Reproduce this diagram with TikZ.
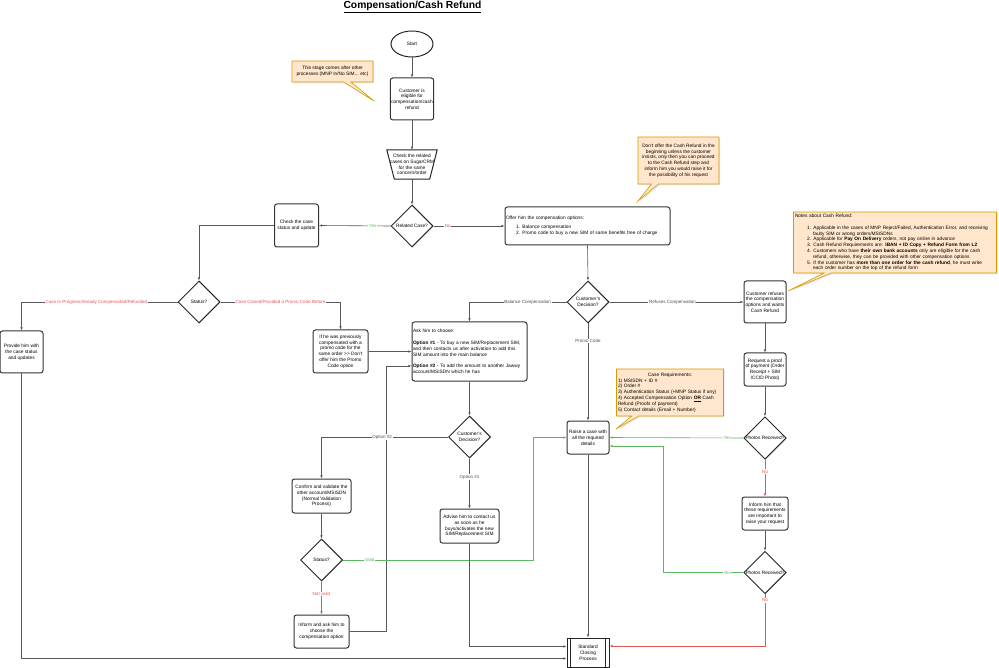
\documentclass[tikz,border=0pt]{standalone}
\usepackage{fontspec}
\setmainfont{Liberation Sans}
\usepackage{tikz}
\usepackage{xcolor}
\usetikzlibrary{arrows.meta,positioning,shapes.geometric,shapes.callouts,shadows}

\definecolor{notefill}{HTML}{FFE6CC}
\definecolor{notedraw}{HTML}{D79B00}
\definecolor{yesgreen}{HTML}{5CB85C}
\definecolor{nored}{HTML}{E05555}

\begin{document}
\begin{tikzpicture}[
    x=1pt, y=-1pt,
    >={Latex[length=3.2pt,width=2.6pt]},
    every node/.style={font=\fontsize{4.8}{5.8}\selectfont},
    box/.style={draw=black!80, line width=1pt, rounded corners=2.5pt, fill=white,
        align=center, inner sep=1pt},
    dec/.style={diamond, draw=black!85, line width=1pt, aspect=1, fill=white,
        align=center, inner sep=0pt, minimum width=42pt, minimum height=42pt},
    note/.style={rectangle callout, draw=notedraw, fill=notefill, line width=0.6pt,
        inner sep=1.5pt, drop shadow={opacity=0.18, shadow xshift=1.2pt, shadow yshift=-1.2pt}},
    flow/.style={draw=black!65, line width=0.6pt, ->},
    okflow/.style={flow, draw=yesgreen},
    badflow/.style={flow, draw=nored},
    lbl/.style={fill=white, inner sep=0.6pt, font=\fontsize{4.5}{5}\selectfont, text=black!70},
    yeslbl/.style={lbl, text=yesgreen},
    nolbl/.style={lbl, text=nored}
]
    \useasboundingbox (0,0) rectangle (999,668);

    \node[font=\bfseries\fontsize{10.3}{12}\selectfont] (title) at (412.5,7) {\underline{Compensation/Cash Refund}};

    % main column
    \node[ellipse, draw=black!85, line width=1pt, minimum width=42pt, minimum height=26pt] (start) at (412,44) {Start};
    \node[box, minimum width=42pt, minimum height=42pt] (elig) at (412,99) {Customer is\\eligible for\\compensation/cash\\refund};
    \node[align=center, inner sep=0pt, minimum width=50pt, minimum height=29pt] (crm) at (412,164.5) {Check the related\\cases on SugarCRM\\for the same\\concern/order};
    \draw[draw=black!85, line width=1pt] (crm.north west) -- (crm.north east)
        -- ([xshift=-7.5pt]crm.south east) -- ([xshift=7.5pt]crm.south west) -- cycle;
    \node[dec] (rel) at (412,226) {Related Case?};
    \node[box, minimum width=44pt, minimum height=43pt] (chk) at (296.5,225.5) {Check the case\\status and update};
    \node[box, text width=163pt, minimum height=38pt, align=left] (offer) at (587.5,226) {Offer him the compensation options:\\[3pt]
        \hspace*{10pt}1. Balance compensation\\
        \hspace*{10pt}2. Promo code to buy a new SIM of same benefits free of charge};

    \node[dec] (st1) at (199,302) {Status?};
    \node[dec] (dec1) at (588,302) {Customer's\\Decision?};
    \node[box, minimum width=43pt, minimum height=42pt] (prov) at (21.5,352) {Provide him with\\the case status\\and updates};
    \node[box, minimum width=55pt, minimum height=43pt] (iff) at (340.5,351.5) {If he was previously\\compensated with a\\promo code for the\\same order >{}> Don't\\offer him the Promo\\Code option};
    \node[box, text width=113pt, minimum height=59pt, align=left] (ask) at (469.5,351.5) {Ask him to choose:\\[5.8pt]
        \textbf{Option \#1} - To buy a new SIM/Replacement SIM,\\
        and then contacts us after activation to add this\\
        SIM amount into the main balance\\[5.8pt]
        \textbf{Option \#2} - To add the amount to another Jawwy\\
        account/MSISDN which he has};
    \node[dec] (dec2) at (469.5,437) {Customer's\\Decision?};
    \node[box, minimum width=42pt, minimum height=33pt] (raise) at (588,437.5) {Raise a case with\\all the required\\details};
    \node[box, minimum width=59pt, minimum height=34pt] (conf) at (321.5,496) {Confirm and validate the\\other account/MSISDN\\(Normal Validation\\Process)};
    \node[box, minimum width=59pt, minimum height=34pt] (adv) at (469.5,526) {Advise him to contact us\\as soon as he\\buys/activates the new\\SIM/Replacement SIM};
    \node[dec] (st2) at (321.5,560) {Status?};
    \node[box, minimum width=55pt, minimum height=33pt] (inf2) at (321.5,631.5) {Inform and ask him to\\choose the\\compensation option};
    \node[draw=black!85, line width=1pt, fill=white, align=center, minimum width=42pt, minimum height=29pt, inner sep=0pt] (std) at (588,652.5) {Standard\\Closing\\Process};
    \draw[black!85, line width=0.6pt] ([xshift=4pt]std.north west) -- ([xshift=4pt]std.south west);
    \draw[black!85, line width=0.6pt] ([xshift=-4pt]std.north east) -- ([xshift=-4pt]std.south east);

    % cash refund column
    \node[box, minimum width=42pt, minimum height=42pt] (ref) at (765,302) {Customer refuses\\the compensation\\options and wants\\Cash Refund};
    \node[box, minimum width=42pt, minimum height=33pt] (req) at (765,369.5) {Request a proof\\of payment (Order\\Receipt + SIM\\ICCID Photo)};
    \node[dec] (ph1) at (765,438) {Photos Received?};
    \node[box, minimum width=46pt, minimum height=33pt] (inf3) at (765,513.5) {Inform him that\\these requirements\\are important to\\raise your request};
    \node[dec] (ph2) at (765,572.5) {Photos Received?};

    % notes
    \coordinate (tip1) at (374,101);
    \coordinate (tip2) at (638,201);
    \coordinate (tip3) at (616,429);
    \coordinate (tip4) at (788,291);
    \node[note, align=center, minimum width=81pt, minimum height=21pt, callout absolute pointer={(tip1)}] (n1) at (332.5,71.5)
        {This stage comes after other\\processes (MNP In/No SIM... etc)};
    \node[note, align=center, minimum width=81pt, minimum height=47pt, callout absolute pointer={(tip2)}] (n2) at (678.5,160.5)
        {Don't offer the Cash Refund in the\\beginning unless the customer\\insists, only then you can proceed\\to the Cash Refund step and\\inform him you would raise it for\\the possibility of his request};
    \node[note, align=left, text width=104pt, minimum height=47pt, callout absolute pointer={(tip3)}] (n3) at (670,392.5)
        {\makebox[\linewidth]{Case Requirements:}\\
        1) MSISDN + ID \#\\
        2) Order \#\\
        3) Authentication Status (+MNP Status if any)\\
        4) Accepted Compensation Option \underline{\textbf{OR}} Cash\\
        Refund (Proofs of payment)\\
        5) Contact details (Email + Number)};
    \node[note, align=left, text width=200pt, minimum height=61pt, callout absolute pointer={(tip4)}] (n4) at (895,242.5)
        {Notes about Cash Refund:\\[5.8pt]
        \hspace*{12pt}1. Applicable in the cases of MNP Reject/Failed, Authentication Error, and receiving\\
        \hspace*{18pt}faulty SIM or wrong orders/MSISDNs\\
        \hspace*{12pt}2. Applicable for \textbf{Pay On Delivery} orders, not pay online in advance\\
        \hspace*{12pt}3. Cash Refund Requirements are: \textbf{IBAN + ID Copy + Refund Form from L2}\\
        \hspace*{12pt}4. Customers who have \textbf{their own bank accounts} only are eligible for the cash\\
        \hspace*{18pt}refund, otherwise, they can be provided with other compensation options\\
        \hspace*{12pt}5. If the customer has \textbf{more than one order for the cash refund}, he must write\\
        \hspace*{18pt}each order number on the top of the refund form};

    % connectors
    \draw[flow] (start) -- (elig);
    \draw[flow] (elig) -- (crm.north);
    \draw[flow] (crm.south) -- (rel);
    \draw[flow] (rel.west) -- node[yeslbl, pos=0.25] {Yes} (chk.east);
    \draw[flow] (rel.east) -- node[nolbl, pos=0.2] {No} (offer.west);
    \draw[flow] (chk.west) -| (st1.north);
    \draw[flow] (offer.south) -- (dec1.north);
    \draw[flow] (st1.west) -| node[nolbl, pos=0.26] {Case In Progress/Already Compensated/Refunded} (prov.north);
    \draw[flow] (st1.east) -| node[nolbl, pos=0.25] {Case Closed/Provided a Promo Code Before} (iff.north);
    \draw[flow] (dec1.west) -| node[lbl, pos=0.2] {Balance Compensation} (ask.north);
    \draw[flow] (dec1.east) -- node[lbl, pos=0.47] {Refuses Compensation} (ref.west);
    \draw[flow] (dec1.south) -- node[lbl, pos=0.18] {Promo Code} (raise.north);
    \draw[flow] (iff.east) -- (ask.west);
    \coordinate (j1) at (386,366);
    \draw[flow] (inf2.east) -| (j1) -- (j1 -| ask.west);
    \draw[flow] (ask.south) -- (dec2.north);
    \draw[flow] (dec2.west) -| node[lbl, pos=0.26] {Option \#2} (conf.north);
    \draw[flow] (dec2.south) -- node[lbl, pos=0.37] {Option \#1} (adv.north);
    \draw[flow] (conf.south) -- (st2.north);
    \coordinate (j2) at (533,560);
    \draw[okflow] (st2.east) -- node[yeslbl, pos=0.14] {Valid} (j2) |- (raise.west);
    \draw[badflow] (st2.south) -- node[nolbl, pos=0.38] {Not valid} (inf2.north);
    \draw[flow] (adv.south) |- ([yshift=6pt]std.west);
    \draw[flow] (prov.south) |- ([yshift=-6pt]std.west);
    \draw[flow] (raise.south) -- (std.north);
    \draw[flow] (ref.south) -- (req.north);
    \draw[flow] (req.south) -- (ph1.north);
    \draw[okflow] (ph1.west) -- node[yeslbl, pos=0.12] {Yes} (raise.east);
    \draw[badflow] (ph1.south) -- node[nolbl, pos=0.32] {No} (inf3.north);
    \draw[flow] (inf3.south) -- (ph2.north);
    \coordinate (j3) at (663,572.5);
    \draw[okflow] (ph2.west) -- node[yeslbl, pos=0.2] {Yes} (j3) |- ([yshift=-8.5pt]raise.east);
    \draw[badflow] (ph2.south) |- node[nolbl, pos=0.06] {No} ([yshift=6.5pt]std.east);
\end{tikzpicture}
\end{document}
